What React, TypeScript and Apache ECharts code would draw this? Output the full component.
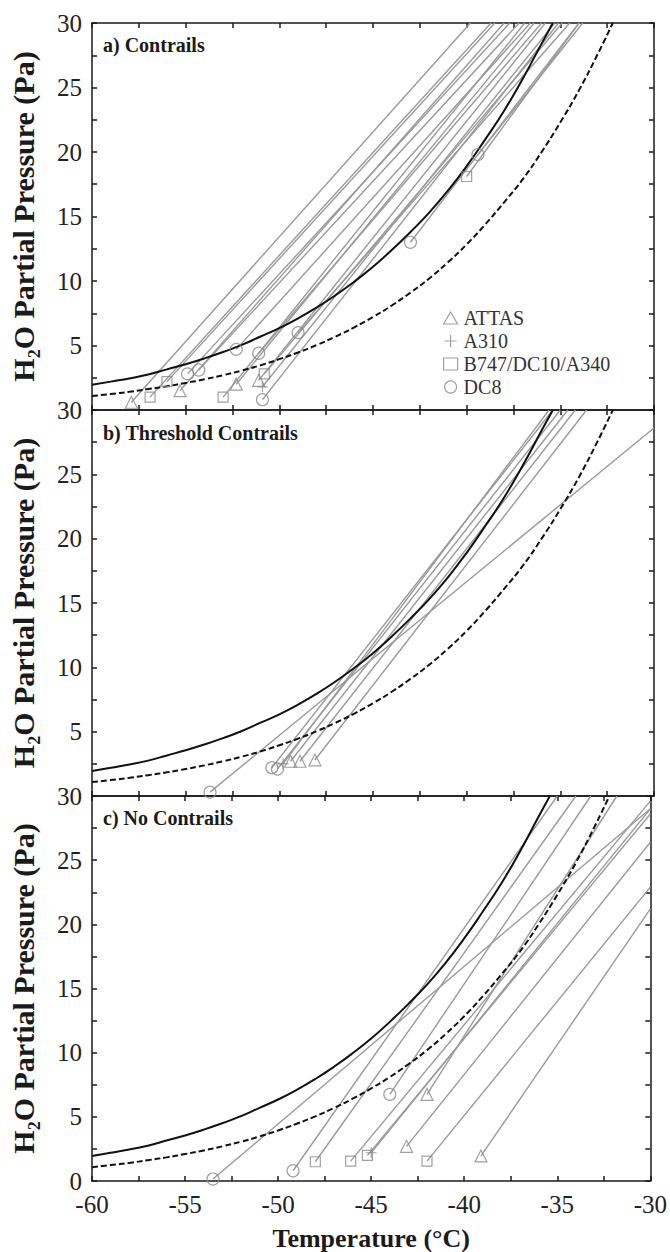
import React, { useEffect, useRef } from "react";
import * as echarts from "echarts";

const FONT = "Liberation Serif, serif";

// Solid curve: saturation over liquid water (T in °C, e in Pa)
const waterT = [-60, -59, -58, -57, -56, -55, -54, -53, -52, -51, -50, -49, -48, -47, -46, -45, -44, -43, -42, -41, -40, -39, -38, -37, -36, -35.4];
const waterE = [1.95, 2.2, 2.45, 2.75, 3.15, 3.55, 4.0, 4.5, 5.05, 5.7, 6.35, 7.1, 7.95, 8.9, 9.95, 11.1, 12.4, 13.8, 15.3, 17.0, 18.9, 21.0, 23.2, 25.7, 28.4, 30.0];

// Dashed curve: saturation over ice
const iceT = [-60, -59, -58, -57, -56, -55, -54, -53, -52, -51, -50, -49, -48, -47, -46, -45, -44, -43, -42, -41, -40, -39, -38, -37, -36, -35, -34, -33, -32.2];
const iceE = [1.08, 1.24, 1.41, 1.62, 1.84, 2.1, 2.38, 2.7, 3.06, 3.47, 3.94, 4.46, 5.04, 5.69, 6.41, 7.21, 8.1, 9.1, 10.2, 11.45, 12.84, 14.4, 16.1, 17.9, 20.0, 22.3, 24.8, 27.6, 30.0];

const aircraft = ["ATTAS", "A310", "B747/DC10/A340", "DC8"];

// Mixing lines: [aircraft, T start, e start, T end, e end]
const contrailLines: [string, number, number, number, number][] = [
  ["ATTAS", -57.9, 0.6, -39.8, 30],
  ["B747/DC10/A340", -56.9, 1.0, -38.7, 30],
  ["B747/DC10/A340", -56.0, 2.2, -38.5, 30],
  ["ATTAS", -55.3, 1.5, -38.0, 30],
  ["DC8", -54.9, 2.8, -37.7, 30],
  ["DC8", -54.3, 3.1, -37.2, 30],
  ["B747/DC10/A340", -53.0, 1.0, -36.9, 30],
  ["ATTAS", -52.3, 2.0, -36.4, 30],
  ["DC8", -52.3, 4.7, -36.6, 30],
  ["ATTAS", -51.1, 2.3, -35.8, 30],
  ["DC8", -51.1, 4.4, -36.0, 30],
  ["DC8", -50.9, 0.8, -35.1, 30],
  ["A310", -50.9, 1.8, -35.3, 30],
  ["B747/DC10/A340", -50.8, 2.8, -34.9, 30],
  ["DC8", -49.0, 6.0, -34.5, 30],
  ["DC8", -43.0, 13.0, -34.0, 30],
  ["B747/DC10/A340", -40.0, 18.1, -34.0, 30],
  ["DC8", -39.4, 19.8, -33.8, 30],
];

const thresholdLines: [string, number, number, number, number][] = [
  ["DC8", -53.7, 0.3, -30.0, 28.6],
  ["DC8", -50.4, 2.2, -35.4, 30],
  ["DC8", -50.1, 2.1, -35.0, 30],
  ["A310", -49.8, 2.5, -35.6, 30],
  ["ATTAS", -49.4, 2.7, -34.6, 30],
  ["ATTAS", -48.9, 2.7, -34.2, 30],
  ["ATTAS", -48.1, 2.8, -33.6, 30],
];

const noContrailLines: [string, number, number, number, number][] = [
  ["DC8", -53.5, 0.15, -30.0, 29.0],
  ["DC8", -49.2, 0.8, -35.0, 30],
  ["B747/DC10/A340", -48.0, 1.5, -34.0, 30],
  ["B747/DC10/A340", -46.1, 1.55, -30.0, 29.6],
  ["B747/DC10/A340", -45.2, 2.0, -30.0, 28.6],
  ["A310", -45.0, 2.2, -30.0, 29.0],
  ["DC8", -44.0, 6.75, -33.2, 30],
  ["ATTAS", -42.0, 6.75, -31.8, 30],
  ["ATTAS", -43.1, 2.7, -30.0, 26.4],
  ["B747/DC10/A340", -42.0, 1.55, -30.0, 22.9],
  ["ATTAS", -39.1, 1.95, -30.0, 21.2],
];

const panelTitles = ["a) Contrails", "b) Threshold Contrails", "c) No Contrails"];
const xTickLabels = [-60, -55, -50, -45, -40, -35, -30];
const yTickLabels = [0, 5, 10, 15, 20, 25, 30];

const symbolFor: Record<string, string> = {
  ATTAS: "triangle",
  A310: "path://M0,5L10,5M5,0L5,10",
  "B747/DC10/A340": "rect",
  DC8: "circle",
};
const sizeFor: Record<string, number> = {
  ATTAS: 12,
  A310: 11,
  "B747/DC10/A340": 10,
  DC8: 12,
};

export default function App() {
  const ref = useRef<HTMLDivElement>(null);

  useEffect(() => {
    document.body.style.margin = "0";
    if (!ref.current) return;
    const chart = echarts.init(ref.current, null, { renderer: "svg" });

    const panels = [contrailLines, thresholdLines, noContrailLines];
    const grids = [
      { left: 90, top: 23, width: 564, height: 387 },
      { left: 90, top: 410, width: 564, height: 386 },
      { left: 90, top: 796, width: 564, height: 386 },
    ];
    const titleY = [45, 433, 818];
    const axisColor = "#1a1a1a";
    const lineStyle = { color: axisColor, width: 1.5 };

    const xAxes: any[] = [];
    const yAxes: any[] = [];
    const series: any[] = [];

    const waterData = waterT.map((t, i) => [t, waterE[i]]);
    const iceData = iceT.map((t, i) => [t, iceE[i]]);

    panels.forEach((segs, p) => {
      const common = {
        type: "value",
        gridIndex: p,
        splitLine: { show: false },
        axisLine: { show: true, onZero: false, lineStyle },
        axisTick: { show: true, inside: true, length: 5, lineStyle },
        minorTick: { show: true, splitNumber: 2, length: 5, lineStyle },
      };
      xAxes.push({
        ...common,
        position: "bottom",
        min: xTickLabels[0],
        max: xTickLabels[xTickLabels.length - 1],
        interval: 5,
        axisLabel: {
          show: p === 2,
          fontSize: 25,
          fontFamily: FONT,
          color: "#222",
          margin: 11,
        },
        name: p === 2 ? "Temperature (°C)" : "",
        nameLocation: "middle",
        nameGap: 44,
        nameTextStyle: { fontSize: 26, fontWeight: "bold", fontFamily: FONT, color: "#1a1a1a" },
      });
      xAxes.push({
        ...common,
        position: "top",
        min: xTickLabels[0],
        max: xTickLabels[xTickLabels.length - 1],
        interval: 5,
        axisLabel: { show: false },
      });
      yAxes.push({
        ...common,
        position: "left",
        min: yTickLabels[0],
        max: yTickLabels[yTickLabels.length - 1],
        interval: 5,
        axisLabel: {
          show: true,
          fontSize: 25,
          fontFamily: FONT,
          color: "#222",
          margin: 10,
          formatter: (v: number) => (p < 2 && v === 0 ? "" : String(v)),
        },
        name: "H₂O Partial Pressure (Pa)",
        nameLocation: "middle",
        nameRotate: 90,
        nameGap: 54,
        nameTextStyle: { fontSize: 30, fontWeight: "bold", fontFamily: FONT, color: "#1a1a1a" },
      });
      yAxes.push({
        ...common,
        position: "right",
        min: yTickLabels[0],
        max: yTickLabels[yTickLabels.length - 1],
        interval: 5,
        axisLabel: { show: false },
      });

      const xi = p * 2;
      const yi = p * 2;

      segs.forEach((s, k) => {
        series.push({
          type: "line",
          name: `mix-${p}-${k}`,
          xAxisIndex: xi,
          yAxisIndex: yi,
          data: [
            [s[1], s[2]],
            [s[3], s[4]],
          ],
          showSymbol: false,
          silent: true,
          z: 2,
          lineStyle: { color: "#9a9a9a", width: 1.4 },
        });
      });

      series.push({
        type: "line",
        name: `water-${p}`,
        xAxisIndex: xi,
        yAxisIndex: yi,
        data: waterData,
        smooth: true,
        showSymbol: false,
        silent: true,
        z: 4,
        lineStyle: { color: "#111", width: 2 },
      });
      series.push({
        type: "line",
        name: `ice-${p}`,
        xAxisIndex: xi,
        yAxisIndex: yi,
        data: iceData,
        smooth: true,
        showSymbol: false,
        silent: true,
        z: 4,
        lineStyle: { color: "#111", width: 2, type: [6, 3] },
      });

      aircraft.forEach((ac) => {
        const pts = segs.filter((s) => s[0] === ac).map((s) => [s[1], s[2]]);
        series.push({
          type: "scatter",
          name: ac,
          xAxisIndex: xi,
          yAxisIndex: yi,
          data: pts,
          symbol: symbolFor[ac],
          symbolSize: sizeFor[ac],
          z: 5,
          itemStyle: { color: "rgba(255,255,255,0)", borderColor: "#8a8a8a", borderWidth: 1.2 },
        });
      });
    });

    const graphic = panelTitles.map((t, i) => ({
      type: "text",
      x: 103,
      y: titleY[i],
      z: 10,
      style: {
        text: t,
        fontFamily: FONT,
        fontSize: 20,
        fontWeight: "bold",
        fill: "#1a1a1a",
        verticalAlign: "middle",
      },
    }));

    chart.setOption({
      animation: false,
      backgroundColor: "#fff",
      textStyle: { fontFamily: FONT },
      grid: grids,
      xAxis: xAxes,
      yAxis: yAxes,
      series,
      graphic,
      legend: {
        show: true,
        orient: "vertical",
        left: 438,
        top: 303,
        itemWidth: 14,
        itemHeight: 12,
        itemGap: 3,
        selectedMode: false,
        data: aircraft.map((ac) => ({
          name: ac,
          icon: symbolFor[ac],
          itemStyle: { color: "rgba(255,255,255,0)", borderColor: "#8a8a8a", borderWidth: 1.2 },
        })),
        textStyle: { fontSize: 20, fontFamily: FONT, color: "#333", padding: [0, 0, 0, 1] },
      },
    });

    return () => chart.dispose();
  }, []);

  return <div ref={ref} style={{ width: 670, height: 1252 }} />;
}
